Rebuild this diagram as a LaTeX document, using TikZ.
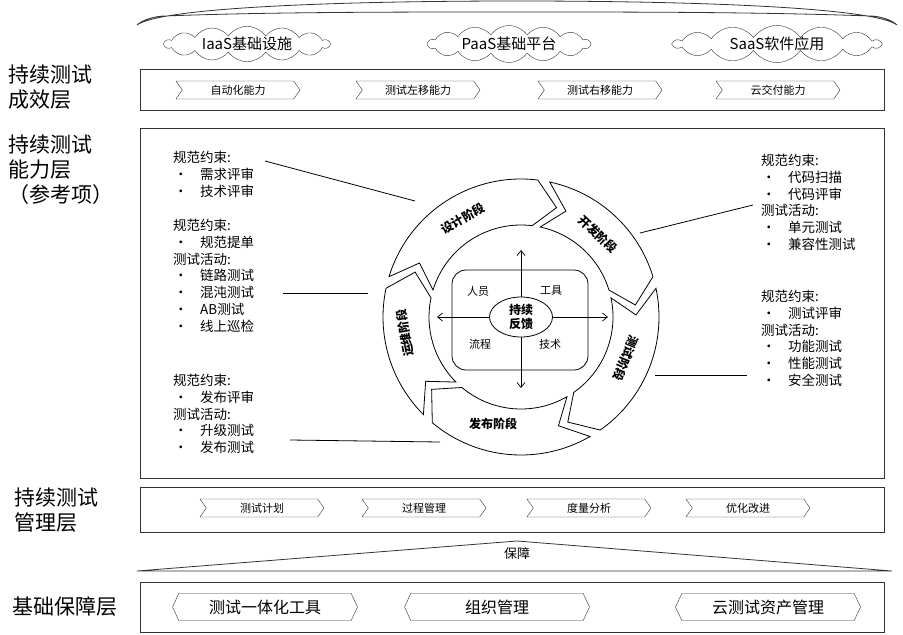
\documentclass[tikz,border=0pt]{standalone}
\usepackage{fontspec}
\setmainfont{Noto Sans CJK SC}
\usetikzlibrary{shapes.symbols,shapes.geometric,arrows.meta}
\newcommand\bul{\makebox[27pt][l]{\hspace{1pt}•}}

\begin{document}
\begin{tikzpicture}[x=1pt, y=1pt,
  every node/.style = {font=\fontsize{11}{13}\selectfont, inner sep=0pt},
  layer/.style = {font=\fontsize{21}{25}\selectfont, align=left, anchor=north west},
  band/.style = {draw=black!80, line width=0.8pt},
  chev/.style = {draw=black!80, signal, signal from=west, signal to=east,
                 signal pointer angle=110, minimum width=124pt, minimum height=18pt},
  hexa/.style = {draw=black!80, signal, signal to=west and east, signal pointer angle=130,
                 minimum width=185pt, minimum height=27pt, font=\fontsize{16}{18}\selectfont},
  cld/.style = {draw=black!80, cloud, cloud puffs=14, cloud puff arc=110, aspect=6,
                minimum height=26pt, font=\fontsize{15}{17}\selectfont},
  note/.style = {font=\fontsize{13.5}{16.8}\selectfont, align=left, anchor=north west},
  stage/.style = {font=\bfseries\fontsize{12}{14}\selectfont},
  ring/.style = {draw, line width=0.8pt, fill=white},
  arr/.style = {-{Straight Barb[length=5pt,width=8pt]}, line width=0.7pt}
  ]
  \useasboundingbox (0,0) rectangle (903,-635);

  % top banner and clouds
  \draw[band] (137,-25) .. controls (160,-8) and (330,-1) .. (517,-1)
    .. controls (705,-1) and (875,-8) .. (897,-25)
    .. controls (892,-20) and (880,-16) .. (870,-16)
    .. controls (760,-12) and (640,-12) .. (517,-12)
    .. controls (390,-12) and (270,-12) .. (165,-16)
    .. controls (155,-16) and (142,-20) .. cycle;
  \node[cld, minimum width=165pt] (iaas) at (247,-44) {IaaS基础设施};
  \node[cld, minimum width=162pt] (paas) at (509,-44) {PaaS基础平台};
  \node[cld, minimum width=207pt] (saas) at (777,-44) {SaaS软件应用};

  % layer titles
  \node[layer] (t1) at (8,-65) {持续测试\\成效层};
  \node[layer] (t2) at (8,-135) {持续测试\\能力层\\（参考项）};
  \node[layer] (t3) at (14,-488) {持续测试\\管理层};
  \node[layer, anchor=west] (t4) at (12,-607) {基础保障层};

  % effectiveness layer
  \draw[band] (140,-69) rectangle (884,-110);
  \node[chev] (c1) at (238,-90) {自动化能力};
  \node[chev] (c2) at (418,-90) {测试左移能力};
  \node[chev] (c3) at (600,-90) {测试右移能力};
  \node[chev] (c4) at (778,-90) {云交付能力};

  % capability layer
  \draw[band] (140,-128) rectangle (884,-478);
  \node[note] (n1) at (173,-151) {规范约束:\\\bul 需求评审\\\bul 技术评审};
  \node[note] (n2) at (173,-219) {规范约束:\\\bul 规范提单\\测试活动:\\\bul 链路测试\\\bul 混沌测试\\\bul AB测试\\\bul 线上巡检};
  \node[note] (n3) at (173,-374) {规范约束:\\\bul 发布评审\\测试活动:\\\bul 升级测试\\\bul 发布测试};
  \node[note] (n4) at (761,-154) {规范约束:\\\bul 代码扫描\\\bul 代码评审\\测试活动:\\\bul 单元测试\\\bul 兼容性测试};
  \node[note] (n5) at (761,-290) {规范约束:\\\bul 测试评审\\测试活动:\\\bul 功能测试\\\bul 性能测试\\\bul 安全测试};

  \begin{scope}[shift={(521,-317)}]
    \draw[ring] (163:138pt) arc[start angle=163, end angle=83, radius=138pt] -- (72:115pt)
      -- (83:92pt) arc[start angle=83, end angle=163, radius=92pt] -- (152:115pt) -- cycle;
    \draw[ring] (78:138pt) arc[start angle=78, end angle=17, radius=138pt] -- (6:115pt)
      -- (17:92pt) arc[start angle=17, end angle=78, radius=92pt] -- (67:115pt) -- cycle;
    \draw[ring] (12:138pt) arc[start angle=12, end angle=-55, radius=138pt] -- (-66:115pt)
      -- (-55:92pt) arc[start angle=-55, end angle=12, radius=92pt] -- (1:115pt) -- cycle;
    \draw[ring] (-60:138pt) arc[start angle=-60, end angle=-130, radius=138pt] -- (-141:115pt)
      -- (-130:92pt) arc[start angle=-130, end angle=-60, radius=92pt] -- (-71:115pt) -- cycle;
    \draw[ring] (225:138pt) arc[start angle=225, end angle=168, radius=138pt] -- (157:115pt)
      -- (168:92pt) arc[start angle=168, end angle=225, radius=92pt] -- (214:115pt) -- cycle;
  \end{scope}
  \node[stage, rotate=30] (dsg) at (463,-218) {设计阶段};
  \node[stage, rotate=-43] (dev) at (598,-234) {开发阶段};
  \node[stage, rotate=-112] (tst) at (626,-358) {测试阶段};
  \node[stage] (rel) at (493,-424) {发布阶段};
  \node[stage, rotate=100] (ops) at (405,-333) {运维阶段};

  \draw[line width=0.8pt, rounded corners=14pt] (452,-270) rectangle (588,-370);
  \node[draw, ellipse, line width=0.8pt, minimum width=63pt, minimum height=40pt,
        align=center, font=\bfseries\fontsize{12}{14}\selectfont] (fb) at (521,-317) {持续\\反馈};
  \coordinate (up) at (521,-250);
  \coordinate (dn) at (521,-388);
  \coordinate (lf) at (437,-317);
  \coordinate (rt) at (608,-317);
  \draw[arr] (fb.north) -- (up);
  \draw[arr] (fb.south) -- (dn);
  \draw[arr] (fb.west) -- (lf);
  \draw[arr] (fb.east) -- (rt);
  \node (q1) at (478,-291) {人员};
  \node (q2) at (551,-291) {工具};
  \node (q3) at (480,-344) {流程};
  \node (q4) at (550,-344) {技术};

  \coordinate (e1) at (265,-161);
  \coordinate (s1) at (415,-201);
  \coordinate (e2) at (283,-293);
  \coordinate (s2) at (368,-293);
  \coordinate (e3) at (290,-440);
  \coordinate (s3) at (440,-442);
  \coordinate (e4) at (753,-205);
  \coordinate (s4) at (640,-233);
  \coordinate (e5) at (747,-375);
  \coordinate (s5) at (655,-375);
  \draw[line width=0.8pt] (e1) -- (s1);
  \draw[line width=0.8pt] (e2) -- (s2);
  \draw[line width=0.8pt] (e3) -- (s3);
  \draw[line width=0.8pt] (e4) -- (s4);
  \draw[line width=0.8pt] (e5) -- (s5);

  % management layer
  \draw[band] (140,-487) rectangle (884,-532);
  \node[chev] (m1) at (262,-508) {测试计划};
  \node[chev] (m2) at (424,-508) {过程管理};
  \node[chev] (m3) at (589,-508) {度量分析};
  \node[chev] (m4) at (748,-508) {优化改进};

  % support
  \draw[band] (137,-571) -- (517,-541) -- (892,-571) -- cycle;
  \node[font=\fontsize{13}{15}\selectfont] (bz) at (517,-554) {保障};

  % base layer
  \draw[band] (140,-582) rectangle (884,-632);
  \node[hexa] (b1) at (265,-607) {测试一体化工具};
  \node[hexa] (b2) at (497,-607) {组织管理};
  \node[hexa] (b3) at (768,-607) {云测试资产管理};
\end{tikzpicture}
\end{document}
